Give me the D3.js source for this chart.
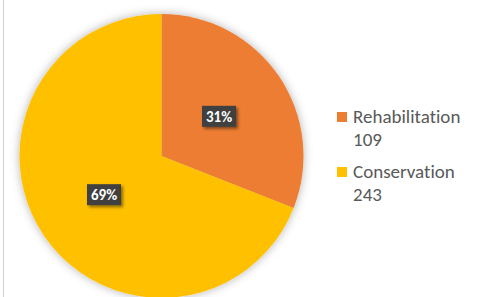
<!DOCTYPE html>
<html>
<head>
<meta charset="utf-8">
<script src="https://cdn.jsdelivr.net/npm/d3@7"></script>
<style>
body { margin: 0; background: #fff; }
svg { display: block; font-family: Carlito, "Open Sans", "Liberation Sans", sans-serif; font-variant-ligatures: none; }
</style>
</head>
<body>
<svg></svg>
<script>
var screen = {width: 478, height: 297};

var categories = ["Rehabilitation", "Conservation"];
var counts = [109, 243];
var colours = ["#ED7D31", "#FFC000"];

var centre = {x: 161.5, y: 156};
var radius = 142;

var svg = d3.select("svg")
    .attr("width", screen.width)
    .attr("height", screen.height);

var defs = svg.append("defs");

var pieShadow = defs.append("filter")
    .attr("id", "pieShadow")
    .attr("x", "-20%").attr("y", "-20%")
    .attr("width", "140%").attr("height", "140%");
pieShadow.append("feDropShadow")
    .attr("dx", 0).attr("dy", 0)
    .attr("stdDeviation", 5)
    .attr("flood-color", "#000")
    .attr("flood-opacity", 0.3);

var boxShadow = defs.append("filter")
    .attr("id", "boxShadow")
    .attr("x", "-30%").attr("y", "-30%")
    .attr("width", "160%").attr("height", "160%");
boxShadow.append("feDropShadow")
    .attr("dx", 2).attr("dy", 2)
    .attr("stdDeviation", 1.5)
    .attr("flood-color", "#000")
    .attr("flood-opacity", 0.45);

// left frame line
svg.append("line")
    .attr("x1", 3.5).attr("x2", 3.5)
    .attr("y1", 0).attr("y2", screen.height)
    .attr("stroke", "#d0d0d0")
    .attr("stroke-width", 1);

var colour = d3.scaleOrdinal()
    .domain(categories)
    .range(colours);

var pie = d3.pie()
    .sort(null)
    .value(function(d, i) { return counts[i]; });

var arcs = pie(categories);
var total = d3.sum(counts);

var arc = d3.arc()
    .innerRadius(0)
    .outerRadius(radius);

var labelArc = d3.arc()
    .innerRadius(radius * 0.98)
    .outerRadius(0);

var graph = svg.append("g")
    .attr("id", "graph")
    .attr("transform", "translate(" + centre.x + "," + centre.y + ")");

graph.append("g")
    .attr("filter", "url(#pieShadow)")
    .selectAll("path")
    .data(arcs)
    .enter()
    .append("path")
    .attr("d", arc)
    .attr("fill", function(d) { return colour(d.data); });

var labels = graph.selectAll(".label")
    .data(arcs)
    .enter()
    .append("g")
    .attr("class", "label")
    .attr("transform", function(d) {
        var c = labelArc.centroid(d);
        return "translate(" + c[0] + "," + c[1] + ")";
    });

labels.append("rect")
    .attr("x", -17).attr("y", -11)
    .attr("width", 34).attr("height", 21)
    .attr("fill", "#404040")
    .attr("filter", "url(#boxShadow)");

labels.append("text")
    .attr("text-anchor", "middle")
    .attr("dy", "0.33em")
    .attr("fill", "#fff")
    .attr("font-weight", "bold")
    .attr("font-size", 15)
    .text(function(d) { return Math.round(counts[d.index] / total * 100) + "%"; });

// legend
var legend = svg.append("g")
    .attr("id", "legend")
    .attr("transform", "translate(337,112)");

var item = legend.selectAll("g")
    .data(categories)
    .enter()
    .append("g")
    .attr("transform", function(d, i) { return "translate(0," + (i * 55) + ")"; });

item.append("rect")
    .attr("width", 10).attr("height", 10)
    .attr("fill", function(d) { return colour(d); });

item.append("text")
    .attr("x", 16).attr("y", 11)
    .attr("fill", "#595959")
    .attr("font-size", 19)
    .text(function(d) { return d; });

item.append("text")
    .attr("x", 16).attr("y", 34)
    .attr("fill", "#595959")
    .attr("font-size", 19)
    .text(function(d, i) { return counts[i]; });
</script>
</body>
</html>
